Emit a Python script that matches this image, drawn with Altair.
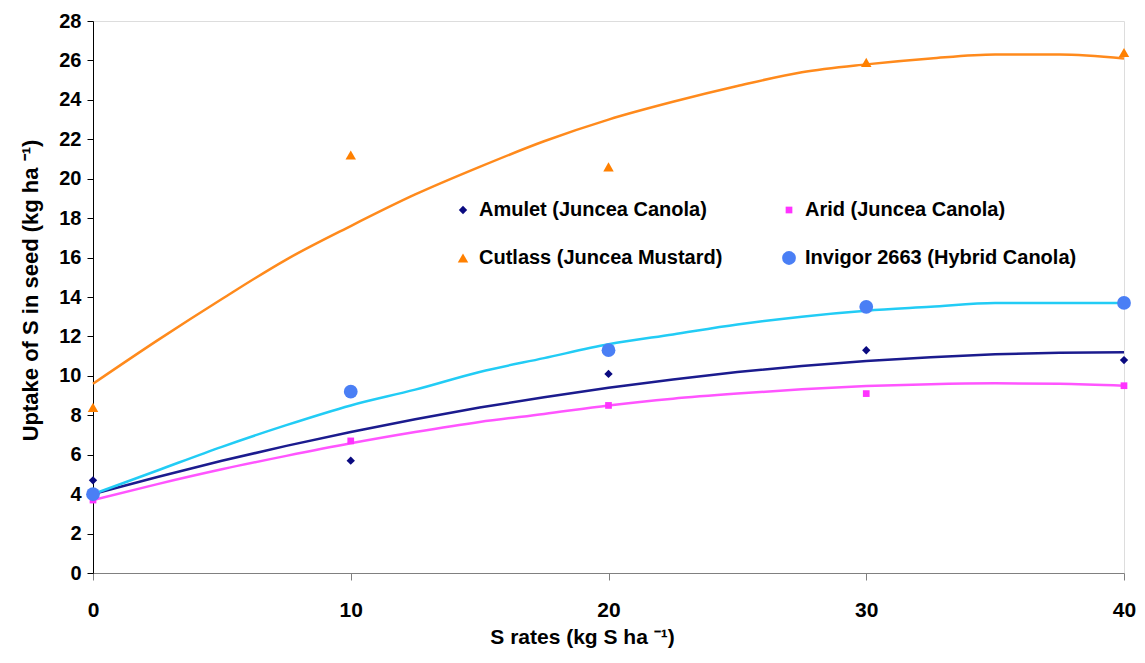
import altair as alt
import pandas as pd

# ---- data ----
series = ["Amulet (Juncea Canola)", "Arid (Juncea Canola)",
          "Cutlass (Juncea Mustard)", "Invigor 2663 (Hybrid Canola)"]
s_rates = [0, 10, 20, 30, 40]
amulet_pts = [4.7, 5.7, 10.1, 11.3, 10.8]
arid_pts = [3.7, 6.7, 8.5, 9.1, 9.5]
cutlass_pts = [8.4, 21.2, 20.6, 25.9, 26.4]
invigor_pts = [4.0, 9.2, 11.3, 13.5, 13.7]

# fitted trend curves
x_curve = [0, 2.5, 5, 7.5, 10, 12.5, 15, 17.5, 20, 22.5, 25, 27.5, 30, 32.5, 35, 37.5, 40]
amulet_fit = [4.0, 4.87, 5.69, 6.45, 7.15, 7.8, 8.39, 8.92, 9.4, 9.82, 10.19, 10.5, 10.75, 10.95, 11.09, 11.17, 11.2]
arid_fit = [3.7, 4.51, 5.26, 5.94, 6.58, 7.15, 7.66, 8.07, 8.5, 8.84, 9.1, 9.32, 9.48, 9.58, 9.62, 9.6, 9.5]
cutlass_fit = [9.6, 11.8, 13.9, 15.9, 17.6, 19.2, 20.6, 21.9, 23.0, 23.9, 24.7, 25.4, 25.8, 26.1, 26.3, 26.3, 26.1]
invigor_fit = [4.0, 5.2, 6.4, 7.5, 8.5, 9.3, 10.2, 10.9, 11.6, 12.1, 12.6, 13.0, 13.3, 13.5, 13.7, 13.7, 13.7]

y_ticks = list(range(0, 29, 2))
x_ticks = [0, 10, 20, 30, 40]

# ---- tables ----
pts_vals = [amulet_pts, arid_pts, cutlass_pts, invigor_pts]
fit_vals = [amulet_fit, arid_fit, cutlass_fit, invigor_fit]
pts = pd.DataFrame([
    {"rate": x, "uptake": v, "Variety": s}
    for s, vals in zip(series, pts_vals) for x, v in zip(s_rates, vals)
])
fits = pd.DataFrame([
    {"rate": x, "uptake": v, "Fit": s}
    for s, vals in zip(series, fit_vals) for x, v in zip(x_curve, vals)
])

marker_colors = ["#0a0a80", "#ff33ff", "#ff8000", "#4a7ff5"]
line_colors = ["#1b1b8e", "#ff55ff", "#ff8a1c", "#22ccf5"]  # alphabetical order of series
shapes = ["diamond", "square", "triangle-up", "circle"]
sizes = [70, 45, 110, 190]

font = "Liberation Sans, Arial, Helvetica, sans-serif"
narrow = "Liberation Sans Narrow, Arial Narrow, Liberation Sans, Arial, sans-serif"

x_enc = alt.X("rate:Q",
              scale=alt.Scale(domain=[0, 40], nice=False, zero=False),
              axis=alt.Axis(values=x_ticks, title="S rates (kg S ha   ⁻¹)", grid=False,
                            domainColor="#808080", tickColor="#808080", tickSize=7,
                            labelFont=narrow, labelFontSize=21, labelFontWeight="bold",
                            labelColor="black", labelPadding=19, labelFlush=False,
                            titleFont=narrow, titleFontSize=21, titleFontWeight="bold",
                            titleColor="black", titlePadding=6, titleX=489))
y_enc = alt.Y("uptake:Q",
              scale=alt.Scale(domain=[0, 28], nice=False, zero=True),
              axis=alt.Axis(values=y_ticks, title="Uptake of S in seed (kg ha  ⁻¹)", grid=False,
                            domainColor="black", tickColor="black", tickSize=6,
                            labelFont=font, labelFontSize=20, labelFontWeight="bold",
                            labelColor="black", labelPadding=6,
                            titleFont=font, titleFontSize=22, titleFontWeight="bold",
                            titleColor="black", titleX=-63, titleY=269,
                            titleAngle=-90, titleAlign="center", titleBaseline="middle"))

# stroke scale uses the data-derived domain (sorted) so its legend is kept apart
lines = alt.Chart(fits).mark_line(strokeWidth=2.5, interpolate="monotone").encode(
    x=x_enc, y=y_enc,
    stroke=alt.Stroke("Fit:N", sort="ascending", scale=alt.Scale(range=line_colors), legend=None),
    detail="Fit:N",
)

points = alt.Chart(pts).mark_point(filled=True, opacity=1).encode(
    x=x_enc, y=y_enc,
    color=alt.Color("Variety:N", scale=alt.Scale(domain=series, range=marker_colors),
                    legend=alt.Legend(title=None)),
    shape=alt.Shape("Variety:N", scale=alt.Scale(domain=series, range=shapes),
                    legend=alt.Legend(title=None)),
    size=alt.Size("Variety:N", scale=alt.Scale(type="ordinal", domain=series, range=sizes),
                  legend=alt.Legend(title=None)),
)

chart = alt.layer(lines, points).properties(
    width=1031, height=552,
    autosize=alt.AutoSizeParams(type="none"),
    padding={"left": 85, "top": 13, "right": 13, "bottom": 85},
).configure_view(stroke=None).configure(background="white").configure_legend(
    orient="none", legendX=360, legendY=179, columns=2, direction="horizontal",
    columnPadding=56, rowPadding=28, labelFont=font, labelFontSize=20,
    labelFontWeight="bold", labelColor="black", labelOffset=6, labelLimit=600,
)

chart.save("out.html", embed_options={"renderer": "svg", "actions": False})
